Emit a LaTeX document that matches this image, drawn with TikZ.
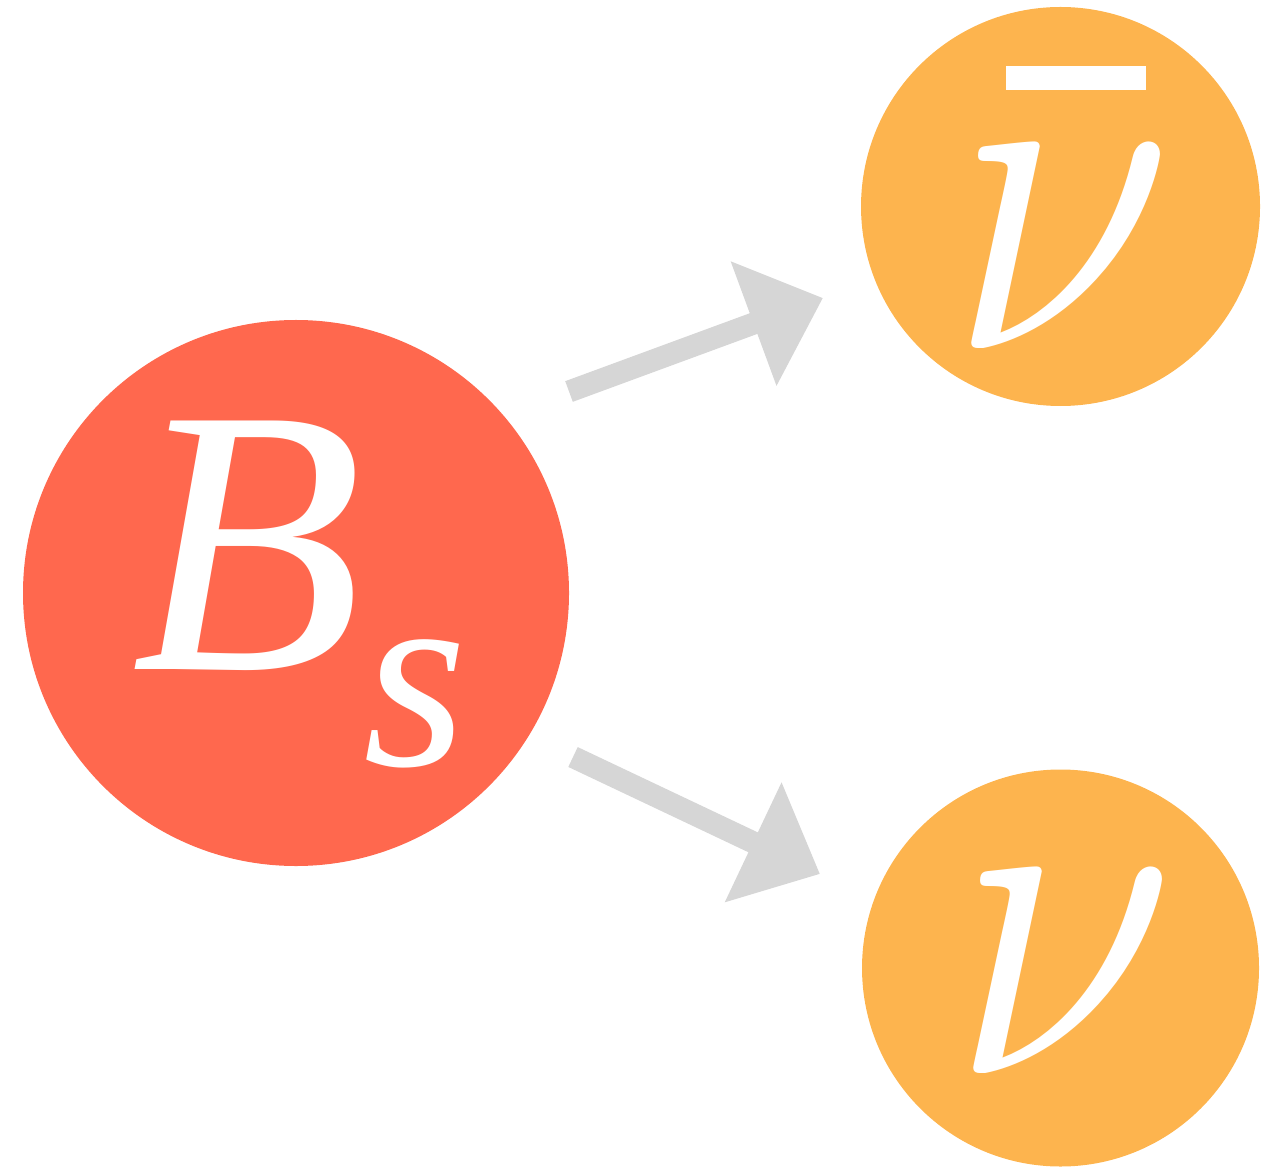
\documentclass[tikz,border=0pt]{standalone}
\usepackage{fontspec}
\setmainfont{Liberation Serif}
\usetikzlibrary{arrows.meta}
\definecolor{bsred}{HTML}{FF684E}
\definecolor{nuorange}{HTML}{FDB44E}
\definecolor{arrgray}{HTML}{D6D6D6}
\tikzset{
  particle/.style={circle, inner sep=0pt},
  decay/.style={draw=arrgray, line width=0.22cm, -{Triangle[width=1.28cm, length=0.74cm, fill=arrgray]}},
  lbl/.style={inner sep=0pt, text=white, anchor=base west}
}
\newcommand{\bignu}{\scalebox{11.4}[13.3]{$\nu$}}
\begin{document}
\begin{tikzpicture}
\useasboundingbox (0,0) rectangle (12.8,-11.67);
\node[particle, fill=bsred, minimum size=5.46cm] (bs) at (2.96,-5.93) {};
\node[particle, fill=nuorange, minimum size=3.99cm] (nubar) at (10.605,-2.065) {};
\node[particle, fill=nuorange, minimum size=3.97cm] (nu) at (10.605,-9.68) {};
\node[lbl, font=\fontsize{108}{108}\selectfont\itshape] (bslbl) at (1.31,-6.69) {B\raisebox{-0.96cm}{\fontsize{76}{76}\selectfont s}};
\node[lbl] (nubarlbl) at (9.50,-3.49) {\makebox[0pt][l]{\hspace{0.55cm}\raisebox{2.59cm}{\rule{1.4cm}{0.24cm}}}\bignu};
\node[lbl] (nulbl) at (9.52,-10.73) {\bignu};
\coordinate (a1s) at (5.69,-3.915);
\coordinate (a2s) at (5.73,-7.57);
\draw[decay] (a1s) -- (8.23,-2.98) coordinate (a1e);
\draw[decay] (a2s) -- (8.20,-8.74) coordinate (a2e);
\end{tikzpicture}
\end{document}
